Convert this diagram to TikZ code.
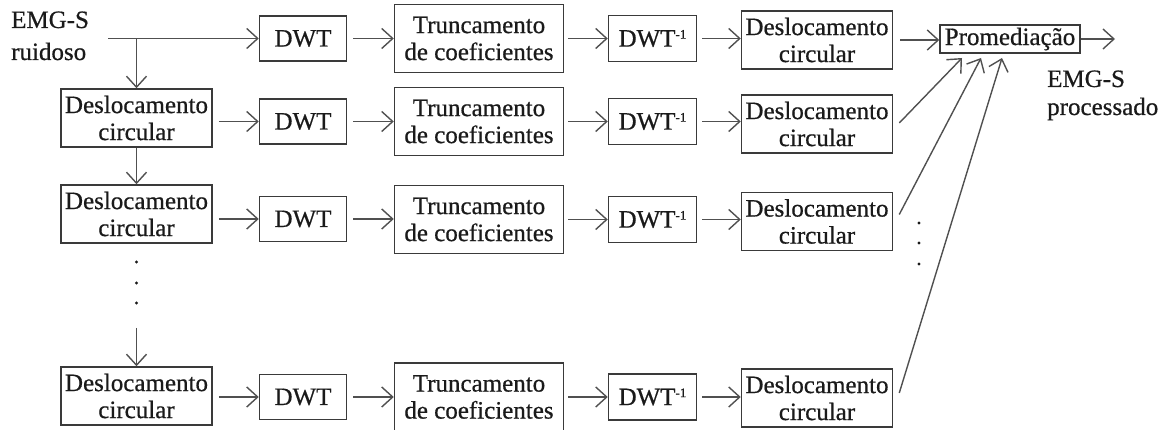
\documentclass[tikz,border=0pt]{standalone}
\usepackage{fontspec}
\setmainfont{Liberation Serif}[FakeBold=0.6]
\usetikzlibrary{arrows.meta}
\definecolor{linec}{HTML}{505050}
\definecolor{boxc}{HTML}{3A3A3A}
\definecolor{txtc}{HTML}{1A1A1A}
\newcommand{\fsz}{\fontsize{25}{27}\selectfont}
\newcommand{\invsup}{\raisebox{8pt}{\fontsize{13}{13}\selectfont -1}}
\tikzset{
  blk/.style={draw=boxc, line width=1.5pt, align=center, inner sep=0pt, font=\fsz, text=txtc},
  dwtb/.style={blk, minimum width=87pt, minimum height=45pt},
  trb/.style={blk, minimum width=169pt, minimum height=68pt},
  idwtb/.style={blk, minimum width=88pt, minimum height=46pt},
  deslb/.style={blk, minimum width=151pt, minimum height=58pt},
  promb/.style={blk, minimum width=140pt, minimum height=28pt},
  lbl/.style={font=\fsz, text=txtc, inner sep=0pt, anchor=base west},
  conn/.style={draw=linec, line width=1.4pt, ->},
  dotc/.style={fill=txtc, draw=none}
}
\begin{document}
\begin{tikzpicture}[x=1pt, y=-1pt, >={Straight Barb[length=11pt,width=20pt]}]
\useasboundingbox (0,0) rectangle (1173,430);

% labels
\node[lbl] (in1) at (11,28) {EMG-S};
\node[lbl] (in2) at (11,60) {ruidoso};
\node[lbl] (out1) at (1047,87) {EMG-S};
\node[lbl] (out2) at (1047,115) {processado};

% row 1
\node[dwtb] (dwt1) at (303,38.5) {DWT};
\node[trb] (tr1) at (479,38.5) {Truncamento\\de coeficientes};
\node[idwtb] (idwt1) at (652.5,38.5) {DWT\invsup};
\node[deslb] (dr1) at (817,40) {Deslocamento\\circular};
\node[promb] (prom) at (1010,39) {Promediação};

% row 2
\node[deslb] (dl2) at (136.5,118) {Deslocamento\\circular};
\node[dwtb] (dwt2) at (303,121.5) {DWT};
\node[trb] (tr2) at (479,121.5) {Truncamento\\de coeficientes};
\node[idwtb] (idwt2) at (652.5,121.5) {DWT\invsup};
\node[deslb] (dr2) at (817,124) {Deslocamento\\circular};

% row 3
\node[deslb] (dl3) at (136.5,214) {Deslocamento\\circular};
\node[dwtb] (dwt3) at (303,219) {DWT};
\node[trb] (tr3) at (479,219.5) {Truncamento\\de coeficientes};
\node[idwtb] (idwt3) at (652.5,219.5) {DWT\invsup};
\node[deslb] (dr3) at (817,221.5) {Deslocamento\\circular};

% row 4
\node[deslb] (dl4) at (136.5,396) {Deslocamento\\circular};
\node[dwtb] (dwt4) at (303,397) {DWT};
\node[trb] (tr4) at (479,397) {Truncamento\\de coeficientes};
\node[idwtb] (idwt4) at (652.5,397) {DWT\invsup};
\node[deslb] (dr4) at (817,398) {Deslocamento\\circular};

% coordinates
\coordinate (in) at (108,38.5);
\coordinate (j) at (136.5,38.5);
\coordinate (v4) at (136.5,328);
\coordinate (out) at (1115,39);
\coordinate (p2) at (962,58);
\coordinate (p3) at (981,58);
\coordinate (p4) at (1002,58);

% input and vertical chain
\draw[conn] (in) -- (dwt1);
\draw[conn] (j) -- (dl2);
\draw[conn] (dl2) -- (dl3);
\draw[conn] (v4) -- (dl4);
\foreach \yy in {262,283,303} \fill[dotc] (136.5,\yy) circle (1.6pt);
\foreach \yy in {223,243,264} \fill[dotc] (919,\yy) circle (1.6pt);

% row 1 arrows
\draw[conn, shorten <=6pt] (dwt1) -- (tr1);
\draw[conn, shorten <=4pt] (tr1) -- (idwt1);
\draw[conn, shorten <=5pt] (idwt1) -- (idwt1 -| dr1.west);
\draw[conn, shorten <=7pt] (dr1) -- (dr1 -| prom.west);
\draw[conn] (prom) -- (out);

% rows 2-4 arrows
\foreach \r in {2,3,4}{
  \draw[conn, shorten <=6pt] (dl\r.east |- dwt\r) -- (dwt\r);
  \draw[conn, shorten <=6pt] (dwt\r) -- (dwt\r -| tr\r.west);
  \draw[conn, shorten <=4pt] (tr\r) -- (tr\r -| idwt\r.west);
  \draw[conn, shorten <=5pt] (idwt\r) -- (idwt\r -| dr\r.west);
}

% diagonals to averaging
\draw[conn] ([shift={(6pt,1pt)}]dr2.east) -- (p2);
\draw[conn] ([shift={(6pt,7pt)}]dr3.east) -- (p3);
\draw[conn] ([shift={(6pt,5pt)}]dr4.east) -- (p4);
\end{tikzpicture}
\end{document}
